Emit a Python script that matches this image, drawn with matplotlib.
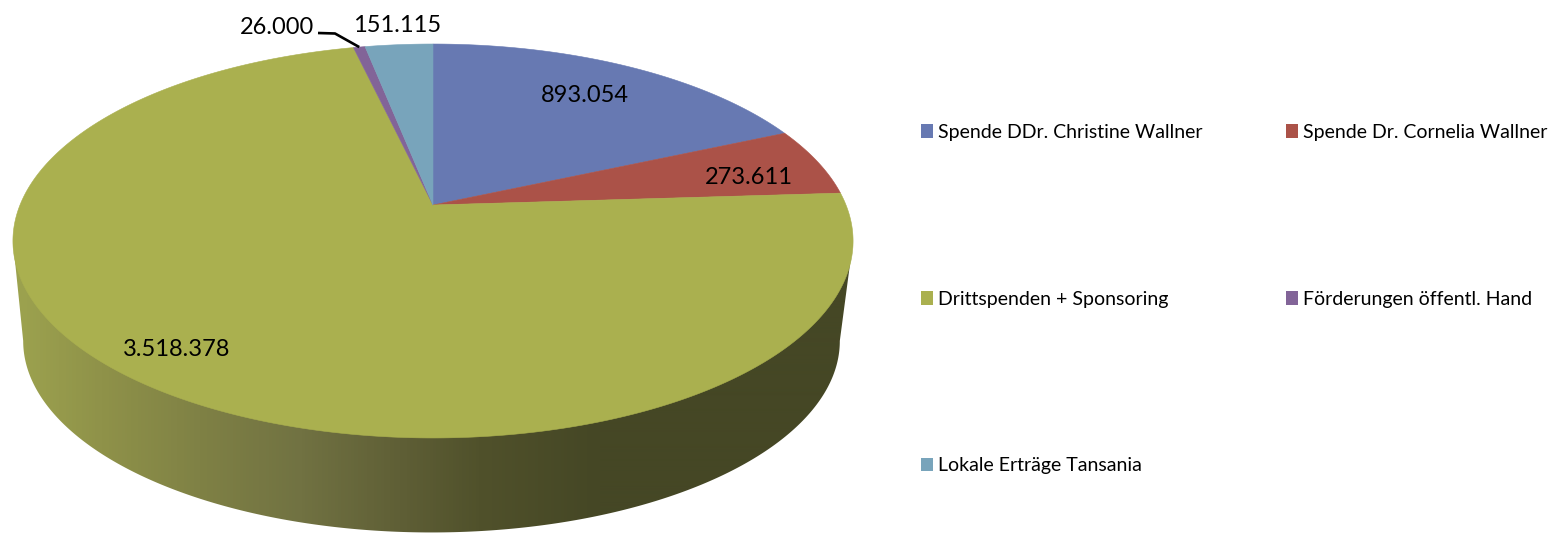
import numpy as np
import matplotlib
matplotlib.use("Agg")
import matplotlib.pyplot as plt
from matplotlib.colors import LinearSegmentedColormap
from matplotlib.patches import Patch, Polygon

categories = ["Spende DDr. Christine Wallner", "Spende Dr. Cornelia Wallner",
              "Drittspenden + Sponsoring", "Förderungen öffentl. Hand",
              "Lokale Erträge Tansania"]
values = [893054, 273611, 3518378, 26000, 151115]
value_labels = ["893.054", "273.611", "3.518.378", "26.000", "151.115"]
colors = ["#6779B2", "#AB5248", "#AAB04F", "#826498", "#78A4BB"]

label_xy = [(585, 96), (749, 177), (177, 349), (277, 28), (397, 25)]
side_stops_x = [13, 100, 200, 300, 400, 480, 600, 853]
side_stops_c = ["#9DA34F", "#8F9249", "#7F8145", "#717242", "#5F5F36", "#50512B", "#454725", "#454725"]

plt.rcParams["font.family"] = ["Lato", "DejaVu Sans"]
W, H = 1550, 533
fig = plt.figure(figsize=(W / 100, H / 100), dpi=100)
ax = fig.add_axes([0, 0, 1, 1])
ax.set_xlim(0, W)
ax.set_ylim(H, 0)
ax.axis("off")

# perspective disc: apex maps to (CX, CY)
CX, CY, A, B, K = 433.0, 205.0, 190.4, 413.0, 0.1827
EC_Y, SHRINK, BOT_Y, BOT_X = 241.0, 0.972, 341.0, 431.5


def top_pts(theta):
    u, v = np.sin(theta), np.cos(theta)
    w = 1 + K * v
    return CX + B * u / w, CY - A * v / w


def bot_pts(theta):
    x, y = top_pts(theta)
    return BOT_X + SHRINK * (x - CX), BOT_Y + SHRINK * (y - EC_Y)


# side wall with horizontal shading
t = np.linspace(0, 2 * np.pi, 1441)
tx, ty = top_pts(t)
i_r, i_l = int(np.argmax(tx)), int(np.argmin(tx))
t_low = np.linspace(t[i_r], t[i_l], 600)
bx, by = bot_pts(t_low)
poly = np.vstack([[tx[i_r], ty[i_r]], np.column_stack([bx, by]), [tx[i_l], ty[i_l]]])
clip = Polygon(poly, closed=True, transform=ax.transData, fc="none", ec="none")
ax.add_patch(clip)
x0, x1 = side_stops_x[0], side_stops_x[-1]
pos = [(x - x0) / (x1 - x0) for x in side_stops_x]
cmap = LinearSegmentedColormap.from_list("side", list(zip(pos, side_stops_c)))
im = ax.imshow(np.linspace(0, 1, 840).reshape(1, -1), cmap=cmap, vmin=0, vmax=1,
               extent=[x0, x1, H + 5, 200], aspect="auto", zorder=1, interpolation="bilinear")
im.set_clip_path(clip)
ax.set_xlim(0, W)
ax.set_ylim(H, 0)

# top wedges
edges = np.concatenate([[0], np.cumsum(values)]) / np.sum(values) * 2 * np.pi
for s, e, c in zip(edges[:-1], edges[1:], colors):
    th = np.linspace(s, e, max(int((e - s) * 180), 4))
    x, y = top_pts(th)
    ax.fill(np.r_[CX, x], np.r_[CY, y], facecolor=c, edgecolor=c, linewidth=0.4, zorder=2)

for txt, (x, y) in zip(value_labels, label_xy):
    ax.text(x, y, txt, ha="center", va="center", fontsize=17, color="black", zorder=4)

# leader line of the small slice
mid = (edges[3] + edges[4]) / 2
lx, ly = top_pts(mid)
ax.plot([318, 335, lx], [33, 33.5, ly], color="black", lw=1.9, zorder=4, solid_capstyle="butt")

# legend, column-first order for two columns
order = [0, 2, 4, 1, 3]
handles = [Patch(facecolor=colors[i], edgecolor="none", label=categories[i]) for i in order]
leg = ax.legend(handles=handles, ncol=2, loc="upper left",
                bbox_to_anchor=(921 / W, 1 - 124 / H), bbox_transform=fig.transFigure,
                frameon=False, fontsize=14, borderaxespad=0, borderpad=0,
                handlelength=0.62, handleheight=0.7, handletextpad=0.26,
                labelspacing=7.7, columnspacing=4.27)

fig.savefig("out.png", dpi=100, facecolor="white")
